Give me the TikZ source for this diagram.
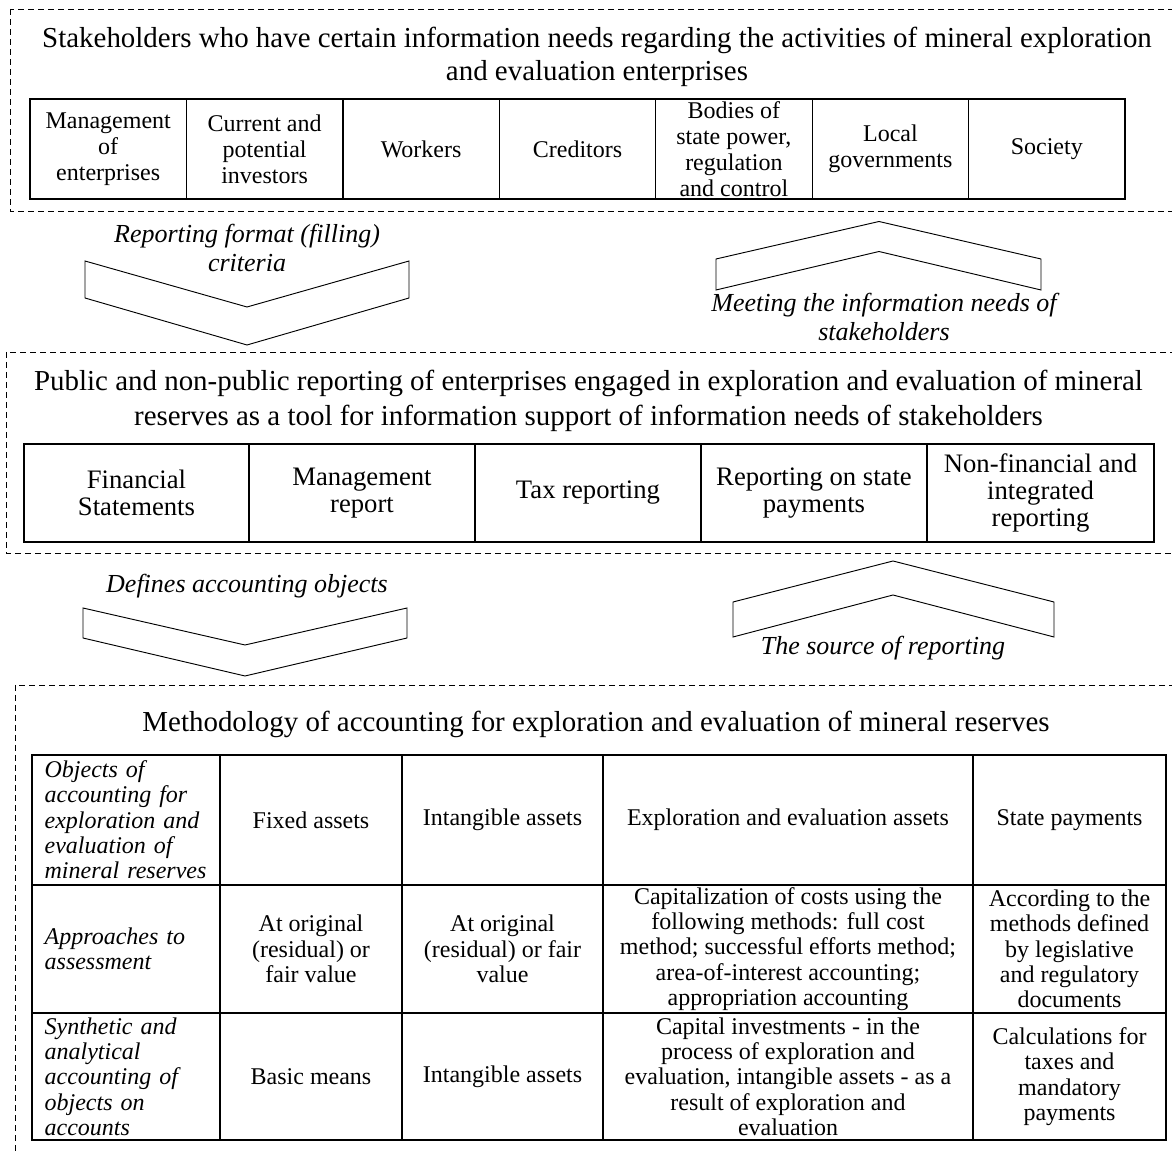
\documentclass[tikz,border=0pt]{standalone}
\usepackage{fontspec}
\setmainfont{Liberation Serif}
\begin{document}
\begin{tikzpicture}[x=0.75pt,y=-0.75pt,
  dashbox/.style={draw=black, line width=0.7pt, dash pattern=on 4.5pt off 3pt},
  chev/.style={draw=black, line width=0.7pt, line join=miter},
  titletext/.style={font=\fontsize{21.7}{24.75}\selectfont, align=center, inner sep=0pt},
  lbltext/.style={font=\fontsize{19.5}{21.75}\selectfont\itshape, align=center, inner sep=0pt},
  cellA/.style={draw=black, line width=0.9pt, inner sep=0pt, align=center,
     font=\fontsize{18}{19.5}\selectfont, minimum height=75pt, minimum width=117.3pt},
  cellB/.style={draw=black, line width=0.9pt, inner sep=0pt, align=center,
     font=\fontsize{20}{20.6}\selectfont, minimum height=73.5pt},
  cellC/.style={draw=black, line width=0.9pt, inner sep=0pt, align=center,
     font=\fontsize{18}{19}\selectfont},
  cellCi/.style={cellC, font=\fontsize{18}{19}\selectfont\itshape, align=left, text width=122pt, minimum width=141pt}
]
\useasboundingbox (0,0) rectangle (1172,1151);
\clip (0,0) rectangle (1172,1151);

% ---------- top block ----------
\draw[dashbox] (10,9) rectangle (1200,211);
\node[titletext] (t1) at (597,57) {Stakeholders who have certain information needs regarding the activities of mineral exploration\\and evaluation enterprises};

\node[cellA] (s1) at (108.2,149) {Management\\of\\enterprises};
\node[cellA] (s2) at (264.6,149) {Current and\\potential\\investors};
\node[cellA] (s3) at (421.1,149) {Workers};
\node[cellA] (s4) at (577.5,149) {Creditors};
\node[cellA] (s5) at (733.9,149) {Bodies of\\state power,\\regulation\\and control};
\node[cellA] (s6) at (890.4,149) {Local\\governments};
\node[cellA] (s7) at (1046.8,149) {Society};

% ---------- chevrons 1 & 2 ----------
\draw[chev] (85,261) -- (247,307) -- (409,261) -- (409,298) -- (247,345) -- (85,298) -- cycle;
\node[lbltext] (l1) at (247,247.5) {Reporting format (filling)\\criteria};

\draw[chev] (716,259) -- (879,221.5) -- (1041,259) -- (1041,290) -- (879,251.5) -- (716,290) -- cycle;
\node[lbltext] (l2) at (884,317) {Meeting the information needs of\\stakeholders};

% ---------- middle block ----------
\draw[dashbox] (6,352) rectangle (1200,553);
\node[titletext, font=\fontsize{21.7}{26.25}\selectfont] (t2) at (588.5,400.5) {Public and non-public reporting of enterprises engaged in exploration and evaluation of mineral\\reserves as a tool for information support of information needs of stakeholders};

\node[cellB, minimum width=168.75pt] (r1) at (136.5,493) {Financial\\Statements};
\node[cellB, minimum width=169.5pt] (r2) at (362,493) {Management\\report};
\node[cellB, minimum width=169.5pt] (r3) at (588,493) {Tax reporting};
\node[cellB, minimum width=169.5pt] (r4) at (814,493) {Reporting on state\\payments};
\node[cellB, minimum width=170.25pt] (r5) at (1040.5,493) {Non-financial and\\integrated\\reporting};

% ---------- chevrons 3 & 4 ----------
\node[lbltext] (l3) at (247,586) {Defines accounting objects};
\draw[chev] (83,608) -- (245,645) -- (407,608) -- (407,638) -- (245,676) -- (83,638) -- cycle;

\draw[chev] (733,602) -- (893,561) -- (1054,602) -- (1054,637) -- (893,595) -- (733,637) -- cycle;
\node[lbltext] (l4) at (883,648) {The source of reporting};

% ---------- bottom block ----------
\draw[dashbox] (15,685) rectangle (1200,1180);
\node[titletext] (t3) at (596,724) {Methodology of accounting for exploration and evaluation of mineral reserves};

% row 1
\node[cellCi, minimum height=97.5pt] (a1) at (126,820) {Objects of\\accounting for\\exploration and\\evaluation of\\mineral reserves};
\node[cellC, minimum width=136.5pt, minimum height=97.5pt] (a2) at (311,820) {Fixed assets};
\node[cellC, minimum width=150.75pt, minimum height=97.5pt] (a3) at (502.5,820) {Intangible assets};
\node[cellC, minimum width=277.5pt, minimum height=97.5pt] (a4) at (788,820) {Exploration and evaluation assets};
\node[cellC, minimum width=144.75pt, minimum height=97.5pt] (a5) at (1069.5,820) {State payments};
% row 2
\node[cellCi, minimum height=96pt] (b1) at (126,949) {Approaches to\\assessment};
\node[cellC, minimum width=136.5pt, minimum height=96pt] (b2) at (311,949) {At original\\(residual) or\\fair value};
\node[cellC, minimum width=150.75pt, minimum height=96pt] (b3) at (502.5,949) {At original\\(residual) or fair\\value};
\node[cellC, minimum width=277.5pt, minimum height=96pt] (b4) at (788,949) {Capitalization of costs using the\\following methods: full cost\\method; successful efforts method;\\area-of-interest accounting;\\appropriation accounting};
\node[cellC, minimum width=144.75pt, minimum height=96pt] (b5) at (1069.5,949) {According to the\\methods defined\\by legislative\\and regulatory\\documents};
% row 3
\node[cellCi, minimum height=95.25pt] (c1) at (126,1076.5) {Synthetic and\\analytical\\accounting of\\objects on\\accounts};
\node[cellC, minimum width=136.5pt, minimum height=95.25pt] (c2) at (311,1076.5) {Basic means};
\node[cellC, minimum width=150.75pt, minimum height=95.25pt] (c3) at (502.5,1076.5) {Intangible assets};
\node[cellC, minimum width=277.5pt, minimum height=95.25pt] (c4) at (788,1076.5) {Capital investments - in the\\process of exploration and\\evaluation, intangible assets - as a\\result of exploration and\\evaluation};
\node[cellC, minimum width=144.75pt, minimum height=95.25pt] (c5) at (1069.5,1076.5) {Calculations for\\taxes and\\mandatory\\payments};
\end{tikzpicture}
\end{document}
